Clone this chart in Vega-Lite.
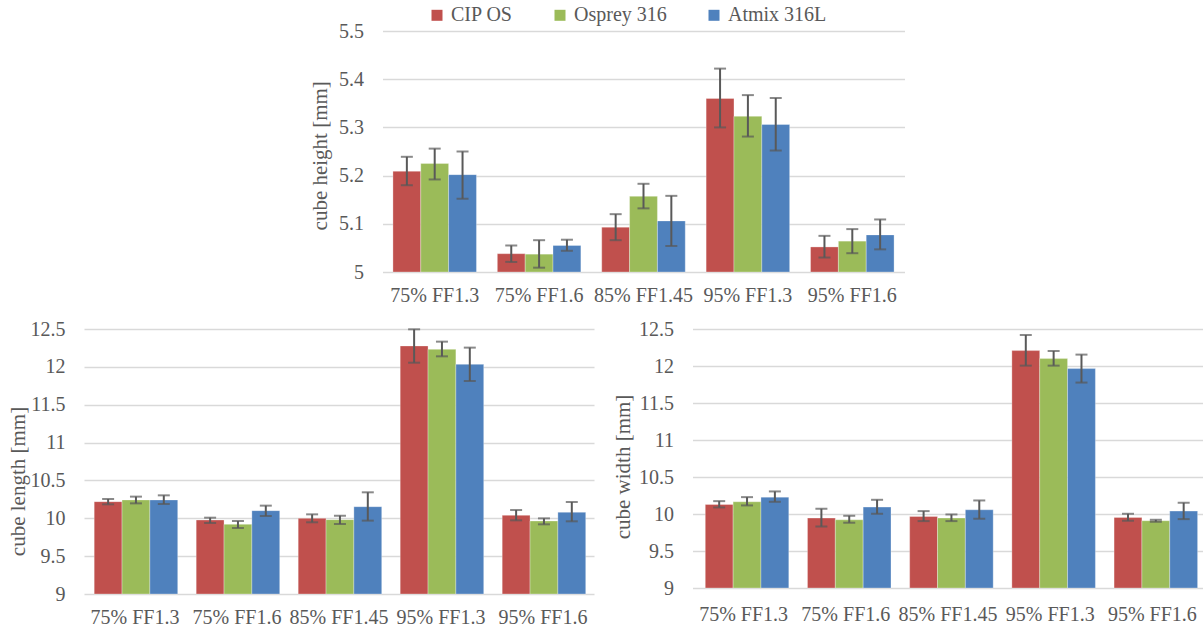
{
  "$schema": "https://vega.github.io/schema/vega-lite/v6.json",
  "background": "white",
  "padding": {"left": 7, "top": 5, "right": 0, "bottom": 0},
  "bounds": "full",
  "spacing": 14,
  "resolve": {"scale": {"color": "independent"}, "legend": {"color": "independent"}},
  "config": {
    "view": {"stroke": null},
    "font": "Liberation Serif",
    "axis": {"labelFont": "Liberation Serif", "titleFont": "Liberation Serif", "labelColor": "#595959", "titleColor": "#595959", "labelFontSize": 20, "titleFontSize": 21, "titleFontWeight": "normal", "domain": false, "ticks": false, "gridColor": "#D9D9D9", "gridWidth": 1.5, "labelOverlap": false},
    "axisX": {"grid": false, "labelAngle": 0, "labelPadding": 13},
    "axisY": {"labelPadding": 19, "titleAngle": -90, "titleBaseline": "middle", "titleAlign": "center"},
    "legend": {"orient": "none", "direction": "horizontal", "title": null, "symbolType": "square", "symbolSize": 121, "symbolStrokeWidth": 0, "labelFont": "Liberation Serif", "labelFontSize": 20, "labelColor": "#595959", "columnPadding": 37, "labelOffset": 4, "padding": 0}
  },
  "datasets": {
    "d": [
      {"panel": "height", "group": "75% FF1.3", "series": "CIP OS", "value": 5.209, "lo": 5.180, "hi": 5.239},
      {"panel": "height", "group": "75% FF1.3", "series": "Osprey 316", "value": 5.225, "lo": 5.192, "hi": 5.256},
      {"panel": "height", "group": "75% FF1.3", "series": "Atmix 316L", "value": 5.202, "lo": 5.152, "hi": 5.250},
      {"panel": "height", "group": "75% FF1.6", "series": "CIP OS", "value": 5.038, "lo": 5.021, "hi": 5.055},
      {"panel": "height", "group": "75% FF1.6", "series": "Osprey 316", "value": 5.037, "lo": 5.009, "hi": 5.066},
      {"panel": "height", "group": "75% FF1.6", "series": "Atmix 316L", "value": 5.055, "lo": 5.044, "hi": 5.067},
      {"panel": "height", "group": "85% FF1.45", "series": "CIP OS", "value": 5.093, "lo": 5.066, "hi": 5.120},
      {"panel": "height", "group": "85% FF1.45", "series": "Osprey 316", "value": 5.157, "lo": 5.132, "hi": 5.183},
      {"panel": "height", "group": "85% FF1.45", "series": "Atmix 316L", "value": 5.106, "lo": 5.054, "hi": 5.158},
      {"panel": "height", "group": "95% FF1.3", "series": "CIP OS", "value": 5.360, "lo": 5.300, "hi": 5.422},
      {"panel": "height", "group": "95% FF1.3", "series": "Osprey 316", "value": 5.323, "lo": 5.281, "hi": 5.367},
      {"panel": "height", "group": "95% FF1.3", "series": "Atmix 316L", "value": 5.306, "lo": 5.252, "hi": 5.361},
      {"panel": "height", "group": "95% FF1.6", "series": "CIP OS", "value": 5.052, "lo": 5.030, "hi": 5.075},
      {"panel": "height", "group": "95% FF1.6", "series": "Osprey 316", "value": 5.064, "lo": 5.039, "hi": 5.089},
      {"panel": "height", "group": "95% FF1.6", "series": "Atmix 316L", "value": 5.077, "lo": 5.047, "hi": 5.109},

      {"panel": "length", "group": "75% FF1.3", "series": "CIP OS", "value": 10.220, "lo": 10.184, "hi": 10.255},
      {"panel": "length", "group": "75% FF1.3", "series": "Osprey 316", "value": 10.242, "lo": 10.197, "hi": 10.286},
      {"panel": "length", "group": "75% FF1.3", "series": "Atmix 316L", "value": 10.242, "lo": 10.189, "hi": 10.303},
      {"panel": "length", "group": "75% FF1.6", "series": "CIP OS", "value": 9.977, "lo": 9.938, "hi": 10.008},
      {"panel": "length", "group": "75% FF1.6", "series": "Osprey 316", "value": 9.920, "lo": 9.872, "hi": 9.964},
      {"panel": "length", "group": "75% FF1.6", "series": "Atmix 316L", "value": 10.101, "lo": 10.030, "hi": 10.167},
      {"panel": "length", "group": "85% FF1.45", "series": "CIP OS", "value": 9.999, "lo": 9.947, "hi": 10.052},
      {"panel": "length", "group": "85% FF1.45", "series": "Osprey 316", "value": 9.982, "lo": 9.925, "hi": 10.035},
      {"panel": "length", "group": "85% FF1.45", "series": "Atmix 316L", "value": 10.153, "lo": 9.969, "hi": 10.343},
      {"panel": "length", "group": "95% FF1.3", "series": "CIP OS", "value": 12.276, "lo": 12.055, "hi": 12.496},
      {"panel": "length", "group": "95% FF1.3", "series": "Osprey 316", "value": 12.231, "lo": 12.139, "hi": 12.333},
      {"panel": "length", "group": "95% FF1.3", "series": "Atmix 316L", "value": 12.033, "lo": 11.813, "hi": 12.254},
      {"panel": "length", "group": "95% FF1.6", "series": "CIP OS", "value": 10.039, "lo": 9.973, "hi": 10.109},
      {"panel": "length", "group": "95% FF1.6", "series": "Osprey 316", "value": 9.964, "lo": 9.920, "hi": 9.999},
      {"panel": "length", "group": "95% FF1.6", "series": "Atmix 316L", "value": 10.079, "lo": 9.960, "hi": 10.215},

      {"panel": "width", "group": "75% FF1.3", "series": "CIP OS", "value": 10.129, "lo": 10.089, "hi": 10.174},
      {"panel": "width", "group": "75% FF1.3", "series": "Osprey 316", "value": 10.165, "lo": 10.116, "hi": 10.228},
      {"panel": "width", "group": "75% FF1.3", "series": "Atmix 316L", "value": 10.228, "lo": 10.165, "hi": 10.305},
      {"panel": "width", "group": "75% FF1.6", "series": "CIP OS", "value": 9.945, "lo": 9.832, "hi": 10.071},
      {"panel": "width", "group": "75% FF1.6", "series": "Osprey 316", "value": 9.922, "lo": 9.882, "hi": 9.976},
      {"panel": "width", "group": "75% FF1.6", "series": "Atmix 316L", "value": 10.093, "lo": 10.003, "hi": 10.192},
      {"panel": "width", "group": "85% FF1.45", "series": "CIP OS", "value": 9.967, "lo": 9.904, "hi": 10.039},
      {"panel": "width", "group": "85% FF1.45", "series": "Osprey 316", "value": 9.945, "lo": 9.904, "hi": 9.994},
      {"panel": "width", "group": "85% FF1.45", "series": "Atmix 316L", "value": 10.057, "lo": 9.936, "hi": 10.183},
      {"panel": "width", "group": "95% FF1.3", "series": "CIP OS", "value": 12.208, "lo": 12.005, "hi": 12.419},
      {"panel": "width", "group": "95% FF1.3", "series": "Osprey 316", "value": 12.100, "lo": 12.005, "hi": 12.203},
      {"panel": "width", "group": "95% FF1.3", "series": "Atmix 316L", "value": 11.965, "lo": 11.776, "hi": 12.154},
      {"panel": "width", "group": "95% FF1.6", "series": "CIP OS", "value": 9.954, "lo": 9.909, "hi": 10.003},
      {"panel": "width", "group": "95% FF1.6", "series": "Osprey 316", "value": 9.909, "lo": 9.895, "hi": 9.922},
      {"panel": "width", "group": "95% FF1.6", "series": "Atmix 316L", "value": 10.039, "lo": 9.931, "hi": 10.152}
    ]
  },
  "vconcat": [
    {
      "spacing": 98.5,
      "bounds": "flush",
      "hconcat": [
        {
          "width": 200, "height": 1,
          "view": {"fill": "white", "stroke": null},
          "data": {"values": [{}]},
          "mark": {"type": "point", "opacity": 0},
          "encoding": {}
        },
        {
          "width": 522, "height": 241,
          "data": {"name": "d"},
          "transform": [{"filter": "datum.panel === 'height'"}],
          "encoding": {
            "x": {"field": "group", "type": "nominal", "sort": ["75% FF1.3", "75% FF1.6", "85% FF1.45", "95% FF1.3", "95% FF1.6"], "scale": {"paddingInner": 0.2, "paddingOuter": 0.1}, "title": null},
            "xOffset": {"field": "series", "type": "nominal", "sort": ["CIP OS", "Osprey 316", "Atmix 316L"], "scale": {"paddingInner": 0, "paddingOuter": 0}}
          },
          "layer": [
            {"mark": {"type": "bar", "stroke": "white", "strokeWidth": 0.6, "strokeOpacity": 0.5},
             "encoding": {
               "y": {"field": "value", "type": "quantitative", "title": "cube height [mm]", "scale": {"domain": [5, 5.5], "zero": false, "nice": false}, "axis": {"values": [5, 5.1, 5.2, 5.3, 5.4, 5.5], "format": "~g", "titleX": -62, "titleY": 124.3}},
               "y2": {"datum": 5},
               "color": {"field": "series", "type": "nominal", "sort": ["CIP OS", "Osprey 316", "Atmix 316L"], "scale": {"domain": ["CIP OS", "Osprey 316", "Atmix 316L"], "range": ["#C0504D", "#9BBB59", "#4F81BD"]}, "legend": {"legendX": 343, "legendY": -25.7}}
             }},
            {"mark": {"type": "rule", "color": "#595959", "strokeWidth": 2},
             "encoding": {"y": {"field": "lo", "type": "quantitative", "title": "cube height [mm]", "axis": {"values": [5, 5.1, 5.2, 5.3, 5.4, 5.5], "format": "~g", "titleX": -62, "titleY": 124.3}}, "y2": {"field": "hi"}}},
            {"mark": {"type": "tick", "color": "#595959", "thickness": 2, "size": 12},
             "encoding": {"y": {"field": "lo", "type": "quantitative", "title": "cube height [mm]", "axis": {"values": [5, 5.1, 5.2, 5.3, 5.4, 5.5], "format": "~g", "titleX": -62, "titleY": 124.3}}}},
            {"mark": {"type": "tick", "color": "#595959", "thickness": 2, "size": 12},
             "encoding": {"y": {"field": "hi", "type": "quantitative", "title": "cube height [mm]", "axis": {"values": [5, 5.1, 5.2, 5.3, 5.4, 5.5], "format": "~g", "titleX": -62, "titleY": 124.3}}}}
          ]
        }
      ]
    },
    {
      "spacing": 98.5,
      "bounds": "flush",
      "hconcat": [
        {
          "width": 510, "height": 265,
          "data": {"name": "d"},
          "transform": [{"filter": "datum.panel === 'length'"}],
          "encoding": {
            "x": {"field": "group", "type": "nominal", "sort": ["75% FF1.3", "75% FF1.6", "85% FF1.45", "95% FF1.3", "95% FF1.6"], "scale": {"paddingInner": 0.2, "paddingOuter": 0.1}, "title": null},
            "xOffset": {"field": "series", "type": "nominal", "sort": ["CIP OS", "Osprey 316", "Atmix 316L"], "scale": {"paddingInner": 0, "paddingOuter": 0}}
          },
          "layer": [
            {"mark": {"type": "bar", "stroke": "white", "strokeWidth": 0.6, "strokeOpacity": 0.5},
             "encoding": {
               "y": {"field": "value", "type": "quantitative", "title": "cube length [mm]", "scale": {"domain": [9, 12.5], "zero": false, "nice": false}, "axis": {"values": [9, 9.5, 10, 10.5, 11, 11.5, 12, 12.5], "format": "~g", "titleX": -66, "titleY": 152}},
               "y2": {"datum": 9},
               "color": {"field": "series", "type": "nominal", "sort": ["CIP OS", "Osprey 316", "Atmix 316L"], "scale": {"domain": ["CIP OS", "Osprey 316", "Atmix 316L"], "range": ["#C0504D", "#9BBB59", "#4F81BD"]}, "legend": null}
             }},
            {"mark": {"type": "rule", "color": "#595959", "strokeWidth": 2},
             "encoding": {"y": {"field": "lo", "type": "quantitative", "title": "cube length [mm]", "axis": {"values": [9, 9.5, 10, 10.5, 11, 11.5, 12, 12.5], "format": "~g", "titleX": -66, "titleY": 152}}, "y2": {"field": "hi"}}},
            {"mark": {"type": "tick", "color": "#595959", "thickness": 2, "size": 12},
             "encoding": {"y": {"field": "lo", "type": "quantitative", "title": "cube length [mm]", "axis": {"values": [9, 9.5, 10, 10.5, 11, 11.5, 12, 12.5], "format": "~g", "titleX": -66, "titleY": 152}}}},
            {"mark": {"type": "tick", "color": "#595959", "thickness": 2, "size": 12},
             "encoding": {"y": {"field": "hi", "type": "quantitative", "title": "cube length [mm]", "axis": {"values": [9, 9.5, 10, 10.5, 11, 11.5, 12, 12.5], "format": "~g", "titleX": -66, "titleY": 152}}}}
          ]
        },
        {
          "width": 511, "height": 259,
          "data": {"name": "d"},
          "transform": [{"filter": "datum.panel === 'width'"}],
          "encoding": {
            "x": {"field": "group", "type": "nominal", "sort": ["75% FF1.3", "75% FF1.6", "85% FF1.45", "95% FF1.3", "95% FF1.6"], "scale": {"paddingInner": 0.25, "paddingOuter": 0.125}, "title": null, "axis": {"labelPadding": 16}},
            "xOffset": {"field": "series", "type": "nominal", "sort": ["CIP OS", "Osprey 316", "Atmix 316L"], "scale": {"paddingInner": 0, "paddingOuter": 0}}
          },
          "layer": [
            {"mark": {"type": "bar", "stroke": "white", "strokeWidth": 0.6, "strokeOpacity": 0.5},
             "encoding": {
               "y": {"field": "value", "type": "quantitative", "title": "cube width [mm]", "scale": {"domain": [9, 12.5], "zero": false, "nice": false}, "axis": {"values": [9, 9.5, 10, 10.5, 11, 11.5, 12, 12.5], "format": "~g", "titleX": -69, "titleY": 137.5}},
               "y2": {"datum": 9},
               "color": {"field": "series", "type": "nominal", "sort": ["CIP OS", "Osprey 316", "Atmix 316L"], "scale": {"domain": ["CIP OS", "Osprey 316", "Atmix 316L"], "range": ["#C0504D", "#9BBB59", "#4F81BD"]}, "legend": null}
             }},
            {"mark": {"type": "rule", "color": "#595959", "strokeWidth": 2},
             "encoding": {"y": {"field": "lo", "type": "quantitative", "title": "cube width [mm]", "axis": {"values": [9, 9.5, 10, 10.5, 11, 11.5, 12, 12.5], "format": "~g", "titleX": -69, "titleY": 137.5}}, "y2": {"field": "hi"}}},
            {"mark": {"type": "tick", "color": "#595959", "thickness": 2, "size": 12},
             "encoding": {"y": {"field": "lo", "type": "quantitative", "title": "cube width [mm]", "axis": {"values": [9, 9.5, 10, 10.5, 11, 11.5, 12, 12.5], "format": "~g", "titleX": -69, "titleY": 137.5}}}},
            {"mark": {"type": "tick", "color": "#595959", "thickness": 2, "size": 12},
             "encoding": {"y": {"field": "hi", "type": "quantitative", "title": "cube width [mm]", "axis": {"values": [9, 9.5, 10, 10.5, 11, 11.5, 12, 12.5], "format": "~g", "titleX": -69, "titleY": 137.5}}}}
          ]
        }
      ]
    }
  ]
}
